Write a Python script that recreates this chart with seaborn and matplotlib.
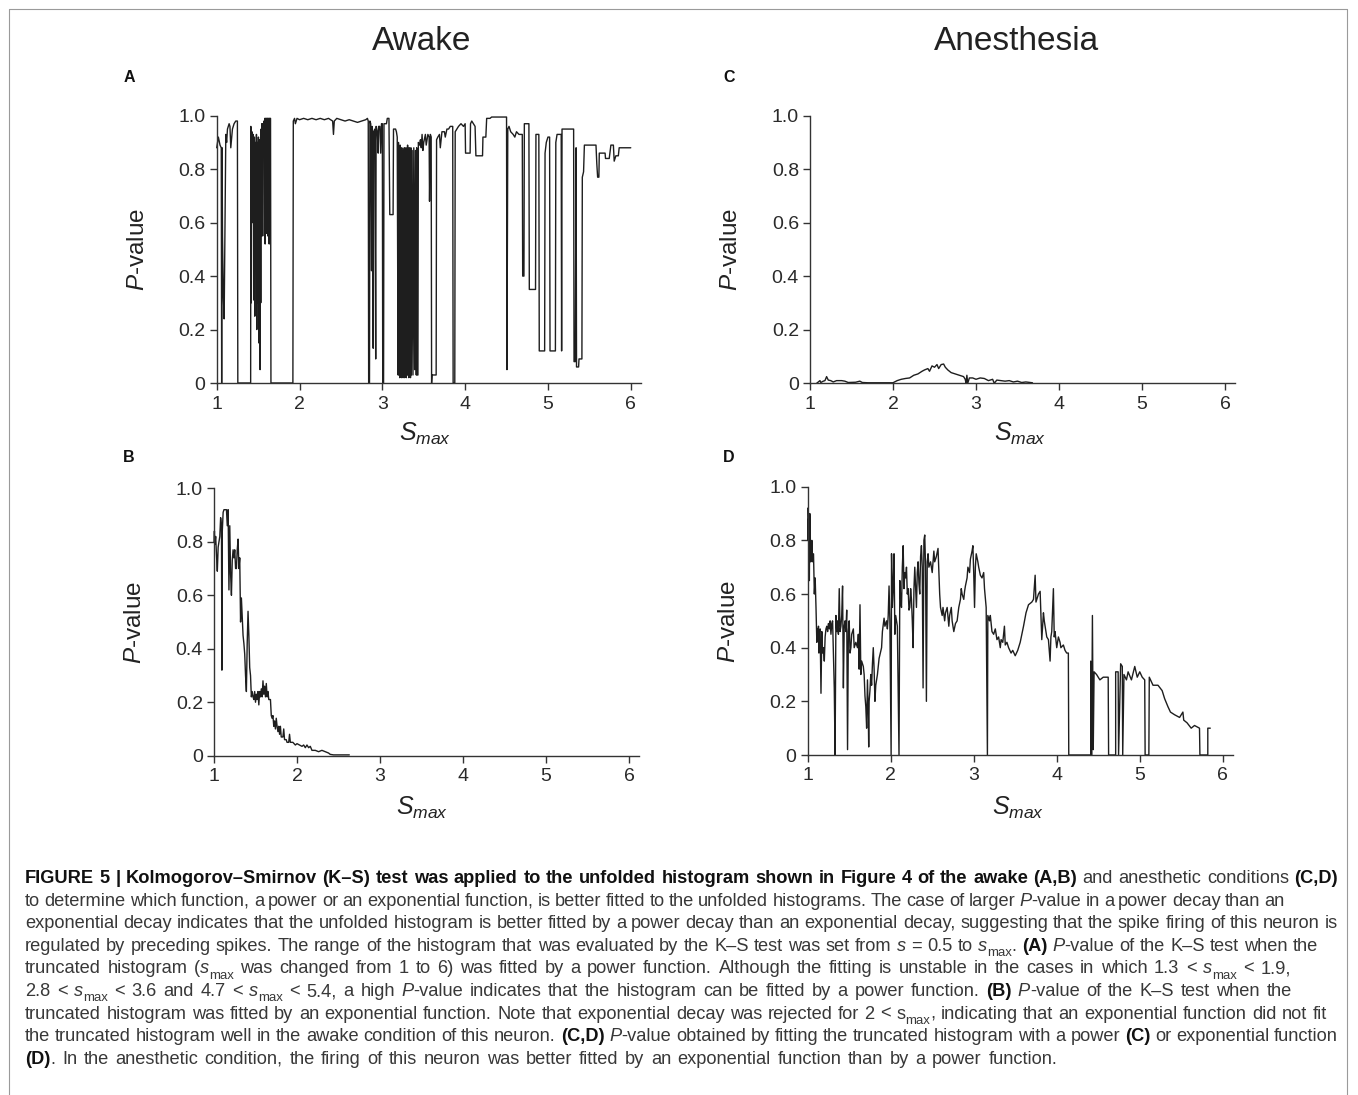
import re
import numpy as np
import pandas as pd
import matplotlib
matplotlib.use("Agg")
import matplotlib.pyplot as plt
from matplotlib.lines import Line2D
from matplotlib.font_manager import FontProperties
import seaborn as sns

sns.set_style("ticks")
plt.rcParams["font.family"] = ["Liberation Sans", "DejaVu Sans"]
plt.rcParams["mathtext.fontset"] = "custom"
plt.rcParams["mathtext.rm"] = "Liberation Sans"
plt.rcParams["mathtext.it"] = "Liberation Sans:italic"
plt.rcParams["mathtext.bf"] = "Liberation Sans:bold"

# ---- data: (s_max, P-value) ----
awake_power = [
    (1.00, 0.88), (1.01, 0.90), (1.02, 0.92), (1.04, 0.89), (1.055, 0.88), (1.06, 0.0), (1.065, 0.88),
    (1.07, 0.55), (1.08, 0.33), (1.09, 0.24), (1.10, 0.60), (1.11, 0.93), (1.12, 0.90), (1.13, 0.95),
    (1.15, 0.97), (1.16, 0.96), (1.17, 0.88), (1.19, 0.95), (1.21, 0.97), (1.23, 0.98), (1.25, 0.98),
    (1.255, 0.0), (1.41, 0.0), (1.412, 0.96), (1.418, 0.30), (1.425, 0.94), (1.43, 0.92), (1.435, 0.60),
    (1.44, 0.93), (1.445, 0.90), (1.45, 0.31), (1.455, 0.92), (1.46, 0.25), (1.465, 0.90), (1.47, 0.88),
    (1.475, 0.45), (1.48, 0.93), (1.484, 0.20), (1.488, 0.90), (1.492, 0.30), (1.496, 0.88), (1.50, 0.40),
    (1.504, 0.92), (1.508, 0.15), (1.512, 0.87), (1.516, 0.35), (1.52, 0.91), (1.524, 0.05), (1.528, 0.88),
    (1.532, 0.30), (1.536, 0.95), (1.54, 0.86), (1.545, 0.97), (1.55, 0.55), (1.555, 0.97), (1.56, 0.85),
    (1.565, 0.96), (1.57, 0.98), (1.575, 0.55), (1.58, 0.99), (1.585, 0.52), (1.59, 0.99), (1.594, 0.60),
    (1.598, 0.99), (1.602, 0.56), (1.606, 0.99), (1.61, 0.62), (1.614, 0.99), (1.618, 0.55), (1.622, 0.99),
    (1.626, 0.70), (1.63, 0.99), (1.634, 0.52), (1.638, 0.99), (1.642, 0.65), (1.646, 0.99), (1.65, 0.99),
    (1.655, 0.0), (1.92, 0.0), (1.925, 0.98), (1.94, 0.99), (1.95, 0.97), (1.97, 0.99),
    (2.00, 0.985), (2.05, 0.99), (2.10, 0.985), (2.15, 0.99), (2.20, 0.985), (2.25, 0.99), (2.30, 0.985),
    (2.35, 0.99), (2.40, 0.98), (2.41, 0.93), (2.42, 0.98), (2.45, 0.99), (2.50, 0.985), (2.55, 0.98),
    (2.60, 0.985), (2.65, 0.98), (2.70, 0.975), (2.75, 0.98), (2.80, 0.985), (2.82, 0.99), (2.83, 0.98),
    (2.835, 0.0), (2.845, 0.0), (2.85, 0.98), (2.86, 0.97), (2.87, 0.42), (2.875, 0.96), (2.88, 0.95),
    (2.89, 0.13), (2.895, 0.94), (2.91, 0.95), (2.92, 0.09), (2.925, 0.96), (2.94, 0.94), (2.95, 0.86),
    (2.955, 0.96), (2.97, 0.96), (2.98, 0.86), (2.99, 0.97), (3.00, 0.97), (3.005, 0.0), (3.015, 0.0),
    (3.02, 0.97), (3.05, 0.97), (3.06, 0.99), (3.08, 0.99), (3.09, 0.63), (3.13, 0.63), (3.135, 0.95),
    (3.16, 0.95), (3.17, 0.94), (3.18, 0.92), (3.19, 0.03), (3.195, 0.90), (3.20, 0.03), (3.205, 0.88),
    (3.21, 0.02), (3.215, 0.89), (3.22, 0.04), (3.225, 0.86), (3.23, 0.02), (3.235, 0.88), (3.24, 0.03),
    (3.245, 0.85), (3.25, 0.02), (3.255, 0.87), (3.26, 0.03), (3.265, 0.88), (3.27, 0.02), (3.275, 0.86),
    (3.28, 0.03), (3.285, 0.88), (3.29, 0.02), (3.295, 0.87), (3.30, 0.03), (3.305, 0.89), (3.31, 0.03),
    (3.315, 0.86), (3.32, 0.02), (3.325, 0.88), (3.33, 0.03), (3.335, 0.87), (3.34, 0.02), (3.345, 0.88),
    (3.35, 0.03), (3.36, 0.87), (3.37, 0.03), (3.38, 0.88), (3.39, 0.05), (3.40, 0.87), (3.41, 0.03),
    (3.415, 0.88), (3.42, 0.03), (3.43, 0.03), (3.435, 0.90), (3.45, 0.89), (3.46, 0.91), (3.47, 0.88),
    (3.48, 0.93), (3.49, 0.87), (3.50, 0.90), (3.52, 0.93), (3.53, 0.89), (3.55, 0.93), (3.565, 0.92),
    (3.57, 0.68), (3.58, 0.93), (3.59, 0.92), (3.595, 0.0), (3.60, 0.03), (3.65, 0.03), (3.655, 0.91),
    (3.67, 0.92), (3.69, 0.93), (3.70, 0.88), (3.72, 0.94), (3.75, 0.94), (3.76, 0.92), (3.78, 0.95),
    (3.80, 0.95), (3.82, 0.96), (3.85, 0.96), (3.855, 0.0), (3.875, 0.0), (3.88, 0.94), (3.90, 0.95),
    (3.92, 0.96), (3.95, 0.97), (3.98, 0.96), (4.00, 0.97), (4.005, 0.86), (4.06, 0.86), (4.065, 0.97),
    (4.08, 0.98), (4.10, 0.97), (4.12, 0.96), (4.13, 0.85), (4.21, 0.85), (4.215, 0.92), (4.25, 0.92),
    (4.26, 0.99), (4.30, 0.99), (4.32, 0.995), (4.50, 0.995), (4.505, 0.05), (4.515, 0.95), (4.53, 0.96),
    (4.55, 0.94), (4.58, 0.93), (4.60, 0.92), (4.62, 0.94), (4.65, 0.93), (4.69, 0.93), (4.695, 0.40),
    (4.71, 0.40), (4.715, 0.97), (4.77, 0.97), (4.775, 0.35), (4.85, 0.35), (4.855, 0.93), (4.89, 0.93),
    (4.895, 0.12), (4.96, 0.12), (4.965, 0.86), (4.98, 0.90), (5.00, 0.92), (5.02, 0.92), (5.025, 0.12),
    (5.09, 0.12), (5.095, 0.90), (5.11, 0.93), (5.16, 0.93), (5.165, 0.12), (5.17, 0.95), (5.31, 0.95),
    (5.315, 0.08), (5.33, 0.08), (5.34, 0.88), (5.345, 0.06), (5.37, 0.06), (5.375, 0.09), (5.41, 0.09),
    (5.415, 0.77), (5.43, 0.79), (5.44, 0.89), (5.58, 0.89), (5.59, 0.82), (5.60, 0.77), (5.615, 0.77),
    (5.62, 0.86), (5.69, 0.86), (5.695, 0.84), (5.74, 0.84), (5.76, 0.89), (5.79, 0.89), (5.80, 0.83),
    (5.82, 0.85), (5.85, 0.85), (5.86, 0.88), (5.88, 0.88), (6.00, 0.88),
]

awake_exp = [
    (1.00, 0.80), (1.005, 0.84), (1.01, 0.79), (1.02, 0.82), (1.03, 0.75), (1.04, 0.69), (1.05, 0.78),
    (1.06, 0.80), (1.07, 0.82), (1.08, 0.89), (1.09, 0.86), (1.095, 0.32), (1.10, 0.84), (1.11, 0.91),
    (1.12, 0.92), (1.15, 0.92), (1.16, 0.86), (1.17, 0.92), (1.18, 0.62), (1.19, 0.86), (1.20, 0.68),
    (1.21, 0.60), (1.22, 0.73), (1.23, 0.77), (1.24, 0.74), (1.25, 0.77), (1.26, 0.70), (1.27, 0.70),
    (1.28, 0.77), (1.29, 0.81), (1.30, 0.70), (1.31, 0.74), (1.315, 0.62), (1.32, 0.50), (1.33, 0.59),
    (1.34, 0.52), (1.35, 0.45), (1.36, 0.42), (1.37, 0.38), (1.38, 0.30), (1.39, 0.24), (1.40, 0.42),
    (1.41, 0.54), (1.42, 0.45), (1.43, 0.33), (1.44, 0.30), (1.45, 0.22), (1.46, 0.24), (1.47, 0.22),
    (1.48, 0.21), (1.49, 0.24), (1.50, 0.20), (1.51, 0.23), (1.52, 0.21), (1.53, 0.24), (1.54, 0.19),
    (1.55, 0.24), (1.56, 0.22), (1.57, 0.25), (1.58, 0.22), (1.59, 0.28), (1.60, 0.23), (1.61, 0.26),
    (1.62, 0.22), (1.63, 0.27), (1.64, 0.22), (1.65, 0.24), (1.66, 0.21), (1.68, 0.21), (1.69, 0.15),
    (1.70, 0.14), (1.71, 0.15), (1.72, 0.11), (1.73, 0.13), (1.74, 0.10), (1.75, 0.14), (1.76, 0.11),
    (1.77, 0.09), (1.78, 0.11), (1.79, 0.08), (1.80, 0.11), (1.81, 0.07), (1.83, 0.07), (1.84, 0.10),
    (1.85, 0.06), (1.87, 0.06), (1.88, 0.05), (1.90, 0.05), (1.91, 0.08), (1.92, 0.05), (1.95, 0.05),
    (1.98, 0.04), (2.00, 0.045), (2.03, 0.04), (2.06, 0.035), (2.08, 0.04), (2.10, 0.03), (2.12, 0.04),
    (2.14, 0.03), (2.16, 0.035), (2.18, 0.02), (2.22, 0.02), (2.26, 0.015), (2.30, 0.02), (2.34, 0.015),
    (2.38, 0.01), (2.40, 0.005), (2.44, 0.003), (2.63, 0.003),
]

anes_power = [
    (1.08, 0.0), (1.10, 0.005), (1.12, 0.01), (1.13, 0.003), (1.16, 0.008), (1.18, 0.01), (1.20, 0.025),
    (1.22, 0.012), (1.25, 0.01), (1.28, 0.005), (1.32, 0.01), (1.38, 0.01), (1.42, 0.008), (1.46, 0.003),
    (1.55, 0.004), (1.60, 0.008), (1.63, 0.003), (1.70, 0.002), (1.80, 0.002), (1.90, 0.002), (2.00, 0.002),
    (2.05, 0.01), (2.10, 0.015), (2.15, 0.018), (2.20, 0.02), (2.25, 0.03), (2.30, 0.035), (2.35, 0.045),
    (2.38, 0.05), (2.42, 0.055), (2.44, 0.045), (2.47, 0.065), (2.50, 0.06), (2.53, 0.07), (2.55, 0.055),
    (2.58, 0.07), (2.61, 0.072), (2.63, 0.06), (2.66, 0.05), (2.70, 0.04), (2.75, 0.035), (2.80, 0.03),
    (2.85, 0.025), (2.87, 0.015), (2.88, 0.0), (2.89, 0.03), (2.90, 0.0), (2.92, 0.02), (2.96, 0.02),
    (3.00, 0.015), (3.05, 0.02), (3.10, 0.018), (3.15, 0.01), (3.20, 0.015), (3.22, 0.0), (3.25, 0.012),
    (3.30, 0.01), (3.35, 0.008), (3.40, 0.01), (3.45, 0.005), (3.50, 0.008), (3.55, 0.003), (3.60, 0.005),
    (3.68, 0.002),
]

anes_exp = [
    (1.00, 0.92), (1.005, 0.80), (1.01, 0.88), (1.015, 0.70), (1.02, 0.65), (1.025, 0.90), (1.03, 0.85),
    (1.035, 0.72), (1.04, 0.78), (1.045, 0.74), (1.05, 0.80), (1.055, 0.72), (1.06, 0.73), (1.07, 0.75),
    (1.08, 0.60), (1.09, 0.66), (1.10, 0.55), (1.11, 0.42), (1.115, 0.47), (1.12, 0.44), (1.13, 0.48),
    (1.135, 0.38), (1.14, 0.46), (1.15, 0.47), (1.16, 0.23), (1.17, 0.46), (1.18, 0.38), (1.19, 0.40),
    (1.20, 0.35), (1.21, 0.44), (1.22, 0.47), (1.23, 0.48), (1.24, 0.46), (1.25, 0.49), (1.26, 0.47),
    (1.27, 0.50), (1.28, 0.45), (1.29, 0.49), (1.30, 0.50), (1.32, 0.25),
    (1.33, 0.0), (1.34, 0.52), (1.35, 0.46), (1.36, 0.50), (1.37, 0.45), (1.38, 0.62), (1.39, 0.46),
    (1.40, 0.48), (1.41, 0.52), (1.42, 0.63), (1.43, 0.25), (1.44, 0.48), (1.45, 0.50), (1.46, 0.46),
    (1.47, 0.54), (1.48, 0.02), (1.49, 0.46), (1.50, 0.50), (1.51, 0.38), (1.52, 0.40), (1.53, 0.45),
    (1.55, 0.47), (1.56, 0.40), (1.58, 0.42), (1.60, 0.40), (1.61, 0.45), (1.62, 0.32), (1.63, 0.56),
    (1.64, 0.30), (1.65, 0.35), (1.67, 0.33), (1.68, 0.30), (1.69, 0.22), (1.70, 0.18), (1.71, 0.10),
    (1.72, 0.28), (1.73, 0.15), (1.735, 0.03), (1.74, 0.20), (1.75, 0.24), (1.76, 0.30), (1.77, 0.26),
    (1.78, 0.34), (1.79, 0.40), (1.80, 0.32), (1.81, 0.20), (1.82, 0.26), (1.84, 0.30), (1.86, 0.36),
    (1.89, 0.40), (1.90, 0.46), (1.92, 0.51), (1.93, 0.48), (1.95, 0.50), (1.96, 0.47), (1.97, 0.52),
    (1.98, 0.63), (1.99, 0.50), (2.005, 0.0), (2.01, 0.75), (2.02, 0.55), (2.03, 0.62), (2.04, 0.75),
    (2.05, 0.45), (2.06, 0.52), (2.08, 0.48), (2.10, 0.0), (2.11, 0.65), (2.12, 0.58), (2.13, 0.55),
    (2.14, 0.70), (2.15, 0.78), (2.16, 0.62), (2.17, 0.68), (2.18, 0.66), (2.19, 0.70), (2.20, 0.60),
    (2.21, 0.62), (2.22, 0.54), (2.23, 0.55), (2.24, 0.62), (2.25, 0.58), (2.26, 0.50), (2.27, 0.40),
    (2.28, 0.62), (2.29, 0.70), (2.30, 0.62), (2.31, 0.55), (2.32, 0.68), (2.33, 0.72), (2.34, 0.64),
    (2.35, 0.60), (2.36, 0.74), (2.37, 0.78), (2.38, 0.70), (2.39, 0.25), (2.40, 0.80), (2.41, 0.82),
    (2.42, 0.70), (2.43, 0.20), (2.44, 0.72), (2.45, 0.75), (2.46, 0.70), (2.48, 0.72), (2.50, 0.68),
    (2.52, 0.76), (2.53, 0.72), (2.55, 0.74), (2.57, 0.77), (2.59, 0.60), (2.60, 0.55), (2.62, 0.52),
    (2.63, 0.55), (2.65, 0.50), (2.66, 0.53), (2.68, 0.55), (2.70, 0.48), (2.71, 0.52), (2.73, 0.55),
    (2.74, 0.50), (2.76, 0.46), (2.78, 0.49), (2.80, 0.50), (2.82, 0.55), (2.84, 0.58), (2.85, 0.62),
    (2.86, 0.60), (2.88, 0.58), (2.89, 0.61), (2.90, 0.63), (2.92, 0.66), (2.93, 0.70), (2.95, 0.68),
    (2.96, 0.73), (2.98, 0.76), (2.99, 0.78), (3.00, 0.68), (3.01, 0.55), (3.02, 0.70), (3.03, 0.75),
    (3.05, 0.72), (3.06, 0.70), (3.08, 0.67), (3.10, 0.66), (3.12, 0.68), (3.13, 0.62), (3.15, 0.55),
    (3.165, 0.0), (3.17, 0.52), (3.19, 0.50), (3.20, 0.52), (3.22, 0.46), (3.24, 0.45), (3.26, 0.47),
    (3.28, 0.43), (3.30, 0.44), (3.32, 0.40), (3.33, 0.43), (3.35, 0.42), (3.37, 0.48), (3.38, 0.41),
    (3.40, 0.42), (3.42, 0.40), (3.45, 0.38), (3.47, 0.39), (3.50, 0.37), (3.53, 0.39), (3.56, 0.42),
    (3.58, 0.45), (3.60, 0.48), (3.63, 0.53), (3.66, 0.56), (3.70, 0.57), (3.72, 0.58), (3.74, 0.67),
    (3.75, 0.57), (3.78, 0.60), (3.80, 0.61), (3.82, 0.43), (3.84, 0.53), (3.85, 0.50), (3.86, 0.48),
    (3.88, 0.44), (3.90, 0.43), (3.92, 0.35), (3.93, 0.44), (3.94, 0.46), (3.96, 0.62), (3.97, 0.44),
    (3.98, 0.46), (4.00, 0.40), (4.02, 0.44), (4.04, 0.42), (4.05, 0.40), (4.08, 0.41), (4.10, 0.39),
    (4.12, 0.38), (4.14, 0.38), (4.145, 0.0),
    (4.41, 0.0), (4.41, 0.35), (4.42, 0.0), (4.43, 0.52), (4.44, 0.02), (4.45, 0.31), (4.48, 0.30),
    (4.52, 0.28), (4.56, 0.29), (4.62, 0.29), (4.625, 0.0), (4.71, 0.0), (4.71, 0.31), (4.74, 0.31),
    (4.745, 0.0), (4.77, 0.34), (4.79, 0.33), (4.795, 0.0), (4.81, 0.30), (4.84, 0.28), (4.86, 0.31),
    (4.90, 0.28), (4.94, 0.33), (4.97, 0.29), (5.00, 0.31), (5.03, 0.29), (5.06, 0.28), (5.065, 0.0),
    (5.11, 0.0), (5.115, 0.29), (5.16, 0.26), (5.22, 0.26), (5.27, 0.24), (5.30, 0.21), (5.34, 0.18),
    (5.37, 0.16), (5.42, 0.15), (5.48, 0.14), (5.52, 0.16), (5.53, 0.13), (5.57, 0.12), (5.62, 0.10),
    (5.66, 0.11), (5.72, 0.10), (5.725, 0.0), (5.82, 0.0), (5.82, 0.10), (5.85, 0.10),
]

x_ticks = [1, 2, 3, 4, 5, 6]
y_ticks = [0, 0.2, 0.4, 0.6, 0.8, 1.0]
y_tick_labels = ["0", "0.2", "0.4", "0.6", "0.8", "1.0"]

caption = [
    [("FIGURE 5 | Kolmogorov–Smirnov (K–S) test was applied to the unfolded histogram shown in Figure 4 of the awake (A,B)", "b"),
     (" and anesthetic conditions ", "r"), ("(C,D)", "b")],
    [("to determine which function, a power or an exponential function, is better fitted to the unfolded histograms. The case of larger ", "r"),
     ("P", "i"), ("-value in a power decay than an", "r")],
    [("exponential decay indicates that the unfolded histogram is better fitted by a power decay than an exponential decay, suggesting that the spike firing of this neuron is", "r")],
    [("regulated by preceding spikes. The range of the histogram that was evaluated by the K–S test was set from ", "r"),
     ("s", "i"), (" = 0.5 to ", "r"), ("s", "i"), ("max", "sub"), (". ", "r"), ("(A)", "b"), (" ", "r"),
     ("P", "i"), ("-value of the K–S test when the", "r")],
    [("truncated histogram (", "r"), ("s", "i"), ("max", "sub"),
     (" was changed from 1 to 6) was fitted by a power function. Although the fitting is unstable in the cases in which 1.3 < ", "r"),
     ("s", "i"), ("max", "sub"), (" < 1.9,", "r")],
    [("2.8 < ", "r"), ("s", "i"), ("max", "sub"), (" < 3.6 and 4.7 < ", "r"), ("s", "i"), ("max", "sub"),
     (" < 5.4, a high ", "r"), ("P", "i"), ("-value indicates that the histogram can be fitted by a power function. ", "r"),
     ("(B)", "b"), (" ", "r"), ("P", "i"), ("-value of the K–S test when the", "r")],
    [("truncated histogram was fitted by an exponential function. Note that exponential decay was rejected for 2 < s", "r"),
     ("max", "sub"), (", indicating that an exponential function did not fit", "r")],
    [("the truncated histogram well in the awake condition of this neuron. ", "r"), ("(C,D)", "b"), (" ", "r"), ("P", "i"),
     ("-value obtained by fitting the truncated histogram with a power ", "r"), ("(C)", "b"), (" or exponential function", "r")],
    [("(D)", "b"), (". In the anesthetic condition, the firing of this neuron was better fitted by an exponential function than by a power function.", "r")],
]
# right end (px) of each caption line in the reference
caption_ends = [1338, 1196, 1338, 1318, 1290, 1318, 1327, 1338, 1101]

W, H = 1358, 1095
fig = plt.figure(figsize=(W / 100, H / 100), dpi=100)
fig.patch.set_facecolor("white")
ink = "#1e1e1e"
axis_col = "#333333"


def fx(x):
    return x / W


def fy(y):
    return 1 - y / H


def add_ax(left, top, right, bottom):
    return fig.add_axes([fx(left), fy(bottom), (right - left) / W, (bottom - top) / H])


panels = [
    (add_ax(216.7, 115.7, 640.7, 383.0), awake_power),
    (add_ax(214.0, 488.3, 639.0, 755.7), awake_exp),
    (add_ax(810.0, 115.7, 1235.0, 383.3), anes_power),
    (add_ax(807.7, 486.7, 1232.7, 755.0), anes_exp),
]

for ax, series in panels:
    df = pd.DataFrame(series, columns=["smax", "p"])
    sns.lineplot(data=df, x="smax", y="p", ax=ax, sort=False, estimator=None,
                 color=ink, linewidth=1.0)
    for ln in ax.lines:
        ln.set_clip_on(False)
    ax.set_xlim(1, 6.12)
    ax.set_ylim(0, 1.0)
    ax.set_xticks(x_ticks)
    ax.set_xticklabels([str(t) for t in x_ticks])
    ax.set_yticks(y_ticks)
    ax.set_yticklabels(y_tick_labels)
    ax.set_xlabel("")
    ax.set_ylabel("")
    sns.despine(ax=ax)
    for side in ["left", "bottom"]:
        ax.spines[side].set_color(axis_col)
        ax.spines[side].set_linewidth(1.0)
    ax.tick_params(axis="both", direction="out", length=5, width=1.0, color=axis_col,
                   labelsize=14, labelcolor="#2a2a2a")
    ax.tick_params(axis="x", pad=4)
    ax.tick_params(axis="y", pad=3)
    ax.set_facecolor("white")

# axis labels, titles and panel letters
lab_col = "#222222"
ylabel_pos = [(137.5, 249.5), (135.0, 622.0), (731.0, 249.5), (729.0, 621.0)]
for x, y in ylabel_pos:
    fig.text(fx(x), fy(y), r"$P$-value", rotation=90, ha="center", va="center",
             fontsize=17.5, color=lab_col)

xlabel_pos = [(425.0, 434.0), (422.0, 808.0), (1020.0, 434.0), (1018.0, 808.0)]
for x, y in xlabel_pos:
    fig.text(fx(x), fy(y), r"$S_{max}$", ha="center", va="center", fontsize=18, color=lab_col)

fig.text(fx(422), fy(41), "Awake", ha="center", va="center", fontsize=24, color=lab_col)
fig.text(fx(1017), fy(41), "Anesthesia", ha="center", va="center", fontsize=24, color=lab_col)

for letter, (x, y) in zip("ACBD", [(129, 78), (729, 78), (129, 457), (729, 457)]):
    fig.text(fx(x), fy(y), letter, ha="center", va="center", fontsize=11.5,
             fontweight="bold", color="#111111")

# frame around the figure (open at the bottom)
frame_col = "#9a9a9a"
for xs, ys in [([8.5, 8.5], [H, 8.5]), ([8.5, 1346.5], [8.5, 8.5]), ([1346.5, 1346.5], [8.5, H])]:
    fig.add_artist(Line2D([fx(v) for v in xs], [fy(v) for v in ys], transform=fig.transFigure,
                          color=frame_col, linewidth=0.8))

# caption with mixed styles, word spacing nudged slightly toward the reference line ends
renderer = fig.canvas.get_renderer()
cap_col = "#383838"


def props(kind, size):
    if kind == "b":
        return FontProperties(family="Liberation Sans", weight="bold", size=size)
    if kind == "i":
        return FontProperties(family="Liberation Sans", style="italic", size=size)
    if kind == "sub":
        return FontProperties(family="Liberation Sans", size=size * 0.72)
    return FontProperties(family="Liberation Sans", size=size)


def piece_width(txt, fp):
    full = renderer.get_text_width_height_descent("|" + txt + "|", fp, ismath=False)[0]
    bars = renderer.get_text_width_height_descent("||", fp, ismath=False)[0]
    return full - bars


def natural(parts, size):
    return sum(piece_width(t, props(k, size)) for t, k in parts)


cap_left = 25.0
tot_target = sum(e - cap_left for e in caption_ends)
tot10 = sum(natural(p, 10.0) for p in caption)
cap_size = 10.0 * tot_target / tot10

baseline = 883.0
for parts, end in zip(caption, caption_ends):
    n_sp = sum(t.count(" ") for t, k in parts)
    extra = (end - cap_left - natural(parts, cap_size)) / max(n_sp, 1)
    extra = min(max(extra, -0.9), 1.4)
    x = cap_left
    for txt, kind in parts:
        fp = props(kind, cap_size)
        dy = cap_size * 0.28 * 100 / 72 if kind == "sub" else 0.0
        col = "#111111" if kind == "b" else cap_col
        for tok in re.split("( )", txt):
            if tok == "":
                continue
            if tok == " ":
                x += piece_width(" ", fp) + extra
                continue
            fig.text(fx(x), fy(baseline + dy), tok, fontproperties=fp, ha="left",
                     va="baseline", color=col)
            x += piece_width(tok, fp)
    baseline += 22.6

fig.savefig("out.png", dpi=100, facecolor="white")
